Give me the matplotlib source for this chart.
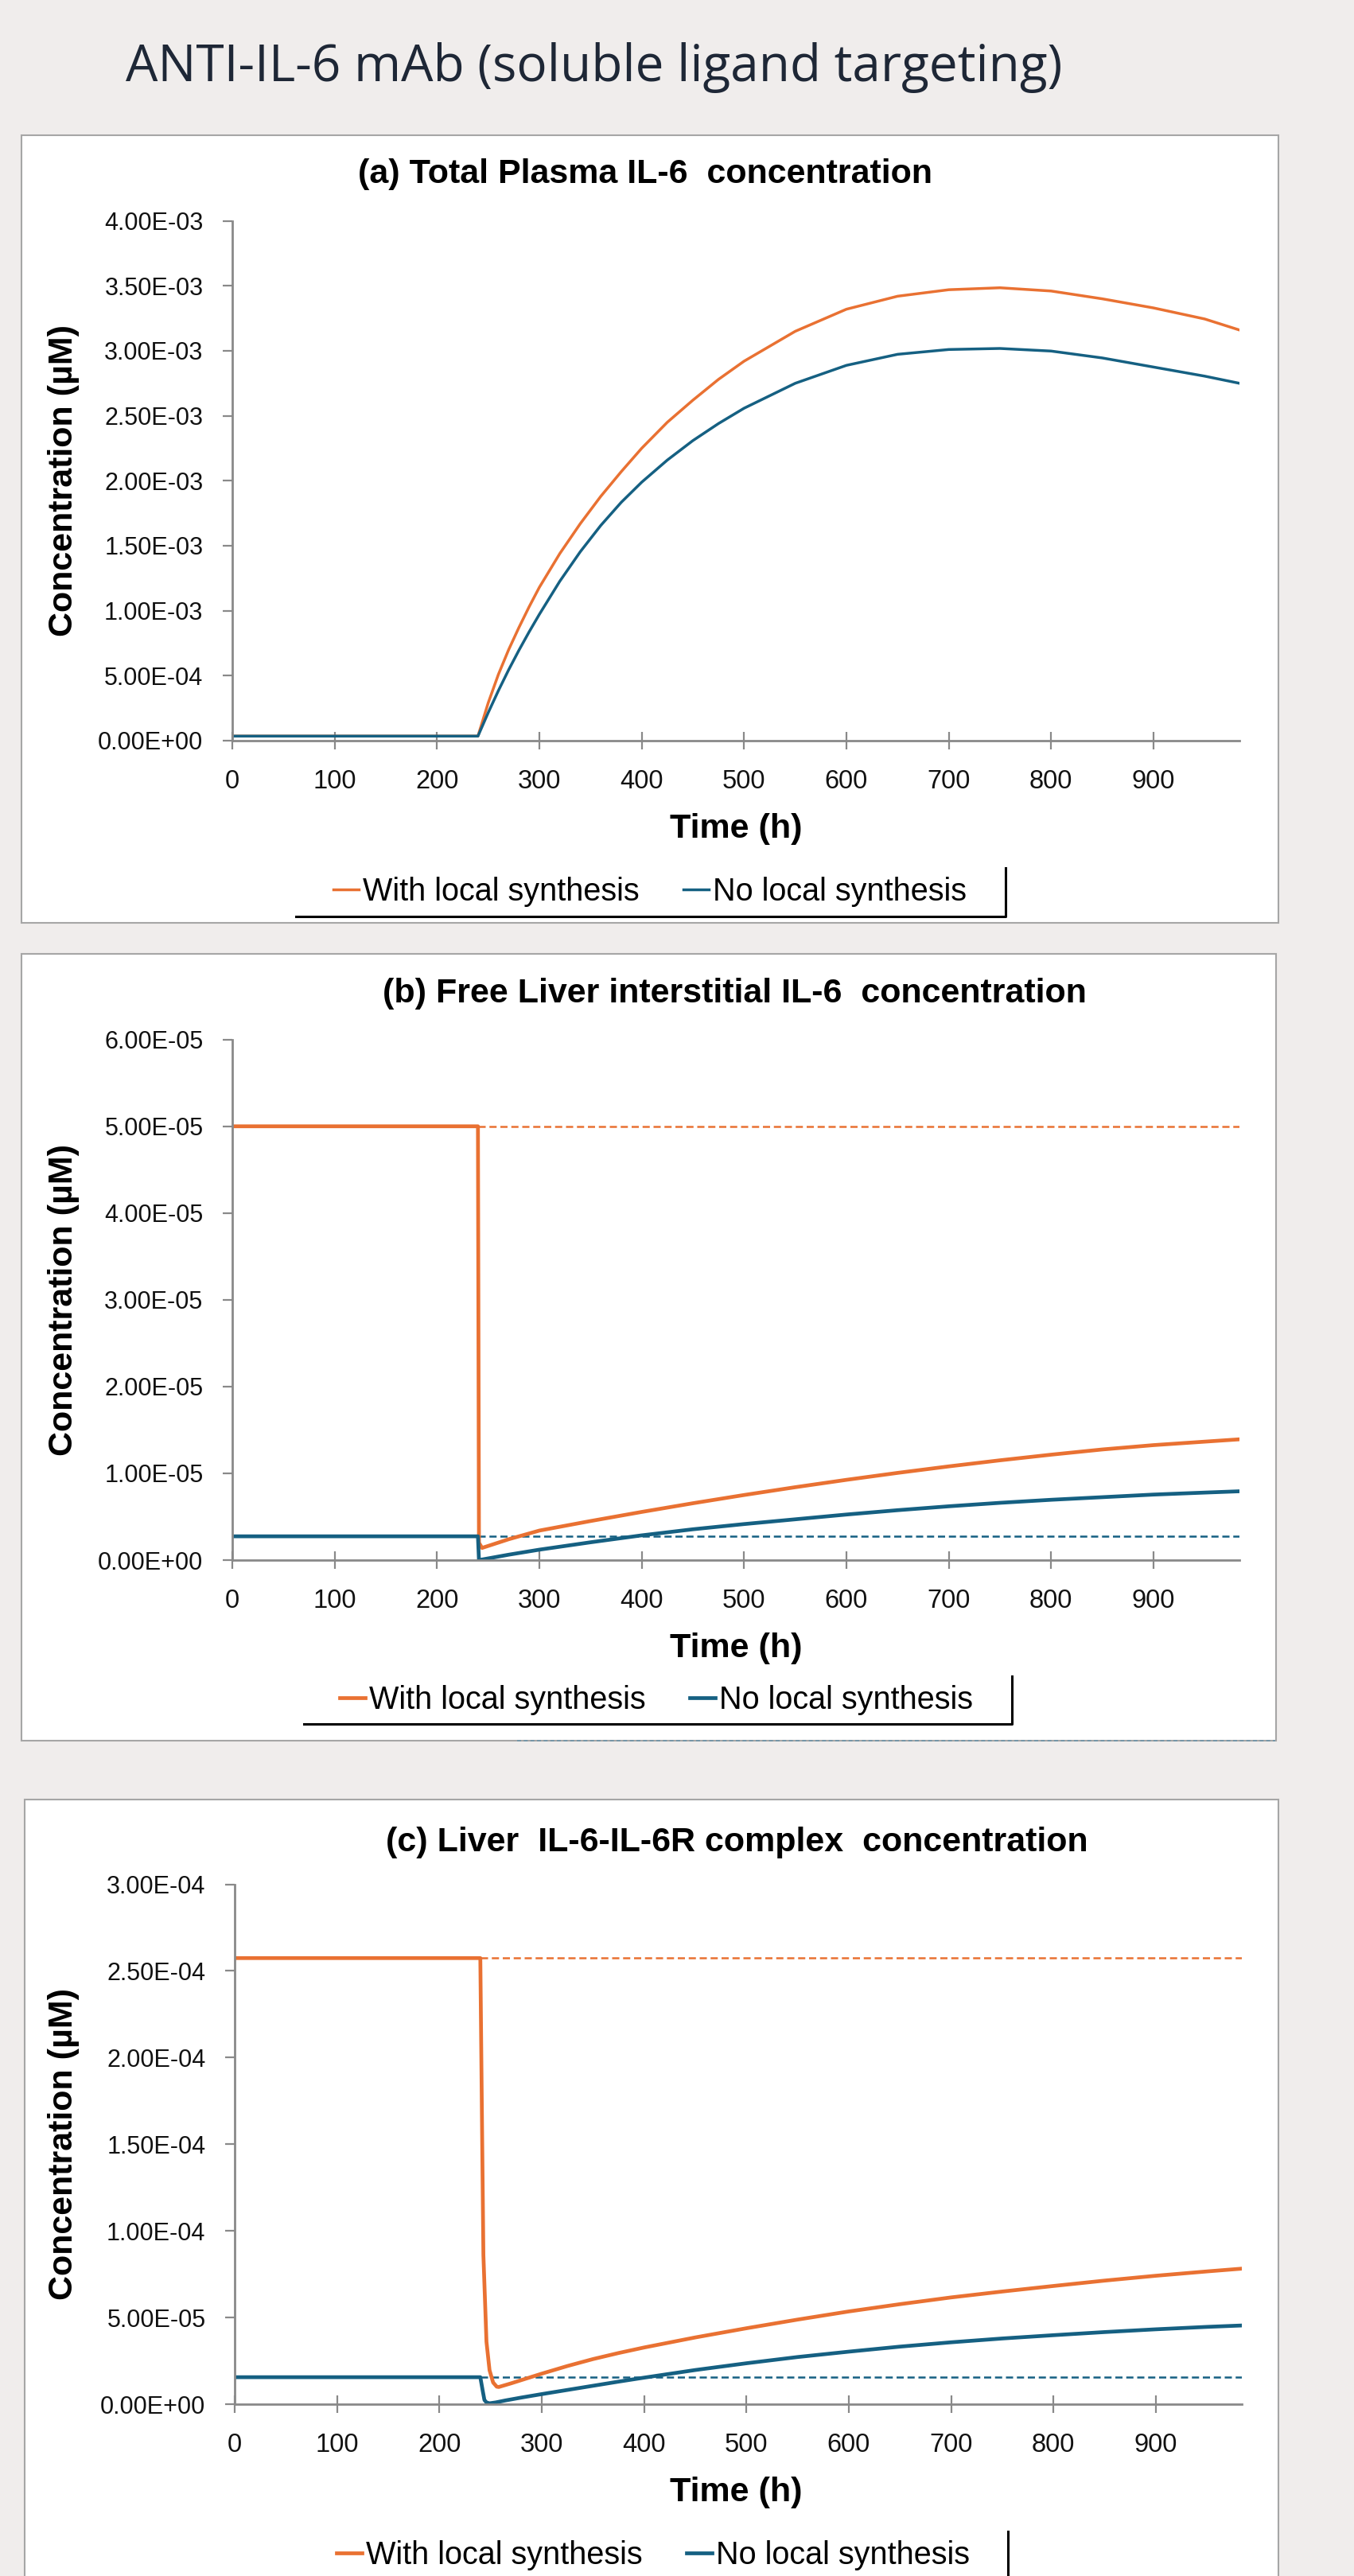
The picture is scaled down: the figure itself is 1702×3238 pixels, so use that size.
import matplotlib
matplotlib.use('Agg')
import matplotlib.pyplot as plt
from matplotlib.lines import Line2D
from matplotlib.patches import Rectangle
from matplotlib.ticker import FuncFormatter, MultipleLocator

W, H = 1702, 3238

# ---- data: time (h) and concentrations (uM) ----
dose_time = 240
t_end = 984
series_names = ['With local synthesis', 'No local synthesis']

# (a) total plasma IL-6
time_a = [0, 240, 250, 260, 270, 280, 290, 300, 320, 340, 360, 380, 400, 425, 450,
          475, 500, 550, 600, 650, 700, 750, 800, 850, 900, 950, 984]
plasma_with = [3.5e-5, 3.5e-5, 2.9e-4, 5.1e-4, 7.0e-4, 8.7e-4, 1.03e-3, 1.18e-3,
               1.44e-3, 1.67e-3, 1.88e-3, 2.07e-3, 2.25e-3, 2.45e-3, 2.62e-3,
               2.78e-3, 2.92e-3, 3.15e-3, 3.32e-3, 3.42e-3, 3.47e-3, 3.485e-3,
               3.46e-3, 3.40e-3, 3.33e-3, 3.245e-3, 3.16e-3]
plasma_without = [3.5e-5, 3.5e-5, 2.15e-4, 3.85e-4, 5.45e-4, 6.95e-4, 8.37e-4, 9.72e-4,
                  1.227e-3, 1.454e-3, 1.656e-3, 1.834e-3, 1.989e-3, 2.159e-3, 2.309e-3,
                  2.44e-3, 2.558e-3, 2.75e-3, 2.888e-3, 2.973e-3, 3.01e-3, 3.018e-3,
                  2.998e-3, 2.945e-3, 2.875e-3, 2.805e-3, 2.75e-3]

# (b) free liver interstitial IL-6
time_b_with = [0, 240, 241, 244, 270, 300, 350, 400, 450, 500, 550, 600, 650, 700,
               750, 800, 850, 900, 950, 984]
liver_free_with = [5.0e-5, 5.0e-5, 2.0e-6, 1.4e-6, 2.4e-6, 3.4e-6, 4.5e-6, 5.55e-6,
                   6.55e-6, 7.5e-6, 8.4e-6, 9.25e-6, 1.005e-5, 1.08e-5, 1.15e-5,
                   1.215e-5, 1.275e-5, 1.325e-5, 1.365e-5, 1.392e-5]
time_b_without = [0, 240, 241, 270, 300, 350, 400, 450, 500, 550, 600, 650, 700,
                  750, 800, 850, 900, 950, 984]
liver_free_without = [2.74e-6, 2.74e-6, 0.0, 6.2e-7, 1.2e-6, 2.05e-6, 2.85e-6, 3.55e-6,
                      4.15e-6, 4.7e-6, 5.25e-6, 5.75e-6, 6.2e-6, 6.6e-6, 6.95e-6,
                      7.25e-6, 7.55e-6, 7.78e-6, 7.93e-6]
liver_free_baseline = [5.0e-5, 2.74e-6]

# (c) liver IL-6-IL-6R complex
time_c_with = [0, 240, 241.5, 243, 246, 249, 252.5, 256, 258, 270, 285, 300, 325,
               350, 375, 400, 450, 500, 550, 600, 650, 700, 750, 800, 850, 900, 950, 984]
complex_with = [2.574e-4, 2.574e-4, 1.70e-4, 8.6e-5, 3.6e-5, 1.96e-5, 1.25e-5, 1.01e-5,
                9.9e-6, 1.2e-5, 1.48e-5, 1.76e-5, 2.2e-5, 2.6e-5, 2.95e-5, 3.27e-5,
                3.85e-5, 4.38e-5, 4.88e-5, 5.35e-5, 5.77e-5, 6.16e-5, 6.5e-5, 6.82e-5,
                7.13e-5, 7.41e-5, 7.66e-5, 7.82e-5]
time_c_without = [0, 240, 242.4, 244, 246, 249, 255, 265, 280, 300, 325, 350, 375,
                  400, 450, 500, 550, 600, 650, 700, 750, 800, 850, 900, 950, 984]
complex_without = [1.556e-5, 1.556e-5, 7.5e-6, 2.4e-6, 1.0e-6, 5.0e-7, 1.0e-6, 2.2e-6,
                   3.8e-6, 5.8e-6, 8.2e-6, 1.06e-5, 1.30e-5, 1.53e-5, 1.97e-5, 2.36e-5,
                   2.72e-5, 3.03e-5, 3.32e-5, 3.57e-5, 3.79e-5, 3.98e-5, 4.16e-5,
                   4.32e-5, 4.46e-5, 4.54e-5]
complex_baseline = [2.574e-4, 1.556e-5]

titles = ['(a) Total Plasma IL-6  concentration',
          '(b) Free Liver interstitial IL-6  concentration',
          '(c) Liver  IL-6-IL-6R complex  concentration']

ORANGE = '#E97132'
BLUE = '#156082'
GRAY = '#898989'
BG = '#F0EDEC'
FONT = 'Liberation Sans'


def fx(x):
    return x / W


def fy(y):
    return 1 - y / H


fig = plt.figure(figsize=(W / 100, H / 100), dpi=100)
fig.patch.set_facecolor(BG)

fig.text(fx(158), fy(102), 'ANTI-IL-6 mAb (soluble ligand targeting)',
         fontsize=46, family='Open Sans', color='#1E2736', ha='left', va='baseline')

# white chart boxes
for x0, y0, x1, y1 in [(27.5, 170, 1607, 1160), (27.5, 1199, 1604, 2188), (30.6, 2262, 1607, 3260)]:
    fig.add_artist(Rectangle((fx(x0), fy(y1)), (x1 - x0) / W, (y1 - y0) / H,
                             transform=fig.transFigure, facecolor='white',
                             edgecolor='#A6A6A6', lw=1.5, zorder=0))

# faint dashed line peeking under panel (b)
fig.add_artist(Line2D([fx(650), fx(1603)], [fy(2188), fy(2188)], transform=fig.transFigure,
                      color='#5F8FA8', lw=1.2, ls=(0, (3, 2)), alpha=0.8))


def sci(v, pos):
    return f'{v:.2E}'


def make_axes(left, right, top, bottom, ymax, ystep):
    ax = fig.add_axes([fx(left), fy(bottom), (right - left) / W, (bottom - top) / H])
    ax.set_xlim(0, t_end)
    ax.set_ylim(0, ymax)
    ax.yaxis.set_major_locator(MultipleLocator(ystep))
    ax.set_xticks(range(0, 901, 100))
    ax.yaxis.set_major_formatter(FuncFormatter(sci))
    for s in ['top', 'right']:
        ax.spines[s].set_visible(False)
    for s in ['left', 'bottom']:
        ax.spines[s].set_color(GRAY)
        ax.spines[s].set_linewidth(2.0)
    ax.tick_params(axis='y', direction='out', length=8.3, width=1.6, color=GRAY,
                   labelsize=22, pad=18, labelcolor='#111111')
    ax.tick_params(axis='x', direction='inout', length=15.8, width=1.6, color=GRAY,
                   labelsize=23.5, pad=18, labelcolor='#111111')
    for lab in ax.get_xticklabels() + ax.get_yticklabels():
        lab.set_family(FONT)
    ax.patch.set_alpha(0)
    return ax


def decorate(ax, top, bottom, title, title_x, title_base, leg_c, frame):
    fig.text(fx(title_x), fy(title_base), title, fontsize=31, fontweight='bold',
             family=FONT, ha='left', va='baseline')
    fig.text(fx(80), fy((top + bottom) / 2), 'Concentration (µM)', rotation=90,
             fontsize=31, fontweight='bold', family=FONT, ha='center', va='center')
    fig.text(fx(925), fy(bottom + 122), 'Time (h)', fontsize=31, fontweight='bold',
             family=FONT, ha='center', va='baseline')
    handles = ax.get_lines()[-2:]
    ax.legend(handles=handles, labels=series_names, loc='center',
              bbox_to_anchor=(fx(leg_c[0]), fy(leg_c[1])), bbox_transform=fig.transFigure,
              ncol=2, frameon=False, prop={'family': FONT, 'size': 28.5},
              handlelength=0.81, handletextpad=0.12, columnspacing=1.42,
              borderpad=0, borderaxespad=0)
    xs, ys = frame
    fig.add_artist(Line2D([fx(x) for x in xs], [fy(y) for y in ys],
                          transform=fig.transFigure, color='black', lw=2.2))


dash = (0, (3.6, 1.9))

# ---- panel (a) ----
ax = make_axes(292, 1558, 277.6, 931, 4.0e-3, 5.0e-4)
ax.plot(time_a, plasma_with, color=ORANGE, lw=2.5)
ax.plot(time_a, plasma_without, color=BLUE, lw=2.5)
decorate(ax, 277.6, 931, titles[0], 450, 230, (817, 1121),
         ([372, 1264, 1264], [1152, 1152, 1091]))

# ---- panel (b) ----
ax = make_axes(292, 1558, 1306.7, 1961, 6.0e-5, 1.0e-5)
ax.hlines(liver_free_baseline, dose_time, t_end, colors=[ORANGE, BLUE], lw=1.8, linestyles=[dash])
ax.plot(time_b_with, liver_free_with, color=ORANGE, lw=3.4)
ax.plot(time_b_without, liver_free_without, color=BLUE, lw=3.4)
decorate(ax, 1306.7, 1961, titles[1], 481, 1260, (825, 2137),
         ([382, 1272, 1272], [2167, 2167, 2107]))

# ---- panel (c) ----
ax = make_axes(295, 1561, 2368.5, 3022, 3.0e-4, 5.0e-5)
ax.hlines(complex_baseline, dose_time, t_end, colors=[ORANGE, BLUE], lw=1.8, linestyles=[dash])
ax.plot(time_c_with, complex_with, color=ORANGE, lw=3.4)
ax.plot(time_c_without, complex_without, color=BLUE, lw=3.4)
decorate(ax, 2368.5, 3022, titles[2], 485, 2327, (821, 3212),
         ([1267, 1267], [3182, 3245]))

fig.savefig('out.png', dpi=100, facecolor=fig.get_facecolor())
